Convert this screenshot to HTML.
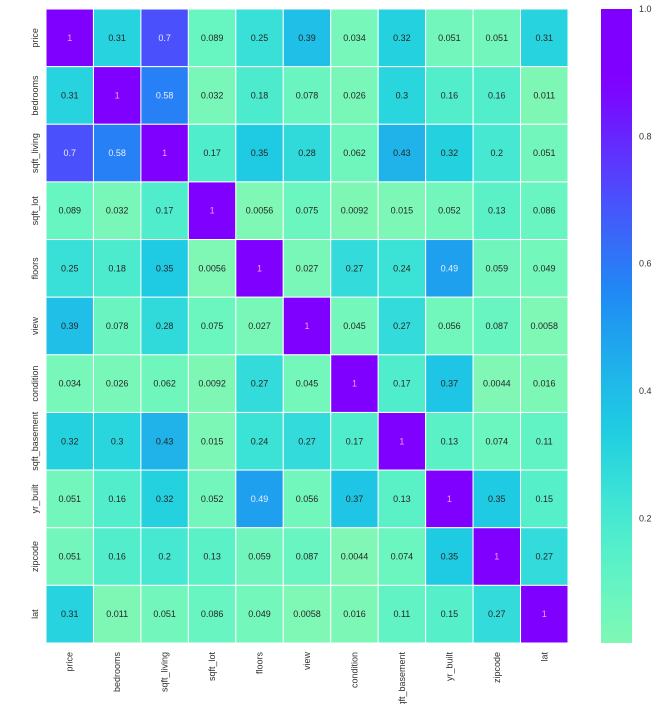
<!DOCTYPE html>
<html><head><meta charset="utf-8"><style>
html,body{margin:0;padding:0;background:#fff;width:653px;height:704px;overflow:hidden}
svg{display:block;font-family:"Liberation Sans",Arial,sans-serif}
</style></head><body>
<svg id="chart" width="653" height="704" viewBox="0 0 653 704">
<defs><linearGradient id="cbgrad" x1="0" y1="1" x2="0" y2="0"></linearGradient></defs>
<g id="cells"></g>
<g id="ylabels"></g>
<g id="xlabels"></g>
<g id="cbar"></g>
</svg>
<script>
const labels = ["price","bedrooms","sqft_living","sqft_lot","floors","view","condition","sqft_basement","yr_built","zipcode","lat"];
const values = [
 [1,0.31,0.7,0.089,0.25,0.39,0.034,0.32,0.051,0.051,0.31],
 [0.31,1,0.58,0.032,0.18,0.078,0.026,0.3,0.16,0.16,0.011],
 [0.7,0.58,1,0.17,0.35,0.28,0.062,0.43,0.32,0.2,0.051],
 [0.089,0.032,0.17,1,0.0056,0.075,0.0092,0.015,0.052,0.13,0.086],
 [0.25,0.18,0.35,0.0056,1,0.027,0.27,0.24,0.49,0.059,0.049],
 [0.39,0.078,0.28,0.075,0.027,1,0.045,0.27,0.056,0.087,0.0058],
 [0.034,0.026,0.062,0.0092,0.27,0.045,1,0.17,0.37,0.0044,0.016],
 [0.32,0.3,0.43,0.015,0.24,0.27,0.17,1,0.13,0.074,0.11],
 [0.051,0.16,0.32,0.052,0.49,0.056,0.37,0.13,1,0.35,0.15],
 [0.051,0.16,0.2,0.13,0.059,0.087,0.0044,0.074,0.35,1,0.27],
 [0.31,0.011,0.051,0.086,0.049,0.0058,0.016,0.11,0.15,0.27,1]
];
const cbTicks = [0.2,0.4,0.6,0.8,1.0];
const cbTickLabels = ["0.2","0.4","0.6","0.8","1.0"];
const vmin = 0.0044, vmax = 1, vsat = 0.885;

const NS="http://www.w3.org/2000/svg";
const X0=46, Y0=9, W=522, H=634, n=labels.length, cw=W/n, ch=H/n;
function colorOf(v){
  let t=(vsat-v)/(vsat-vmin); t=Math.max(0,Math.min(1,t));
  const x=0.5*t;
  const r=Math.max(0.12,Math.min(1,Math.abs(2*x-0.5))), g=Math.sin(Math.PI*x)*0.97, b=Math.cos(Math.PI*x/2);
  return `rgb(${Math.round(r*255)},${Math.round(g*255)},${Math.round(b*255)})`;
}
function mk(tag,attrs,parent){const e=document.createElementNS(NS,tag);for(const k in attrs)e.setAttribute(k,attrs[k]);parent.appendChild(e);return e;}
function fmt(v){return String(v);}
const cells=document.getElementById('cells');
values.forEach((row,i)=>row.forEach((v,j)=>{
  const r=mk('rect',{x:X0+j*cw,y:Y0+i*ch,width:cw,height:ch,fill:colorOf(v),stroke:'#fff','stroke-width':1},cells);
  
  
  const t=mk('text',{x:X0+(j+.5)*cw,y:Y0+(i+.5)*ch+3,'text-anchor':'middle','font-size':9,fill:v>=0.45?(v>=0.88?'#f0a0f0':'#e8eeff'):'#262626'},cells);
  t.textContent=fmt(v);
  
  
}));
const yl=document.getElementById('ylabels'), xl=document.getElementById('xlabels');
labels.forEach((l,i)=>{
  const cy=Y0+(i+.5)*ch;
  const t=mk('text',{x:0,y:0,transform:`translate(38,${cy}) rotate(-90)`,'text-anchor':'middle','font-size':9,fill:'#333'},yl);
  t.textContent=l;
  
  
  const cx=X0+(i+.5)*cw;
  const u=mk('text',{x:0,y:0,transform:`translate(${cx+3},652) rotate(-90)`,'text-anchor':'end','font-size':9,fill:'#333'},xl);
  u.textContent=l;
  
  
});
const grad=document.getElementById('cbgrad');
for(let k=0;k<=40;k++){const v=vmin+(vmax-vmin)*k/40;mk('stop',{offset:(k/40),'stop-color':colorOf(v)},grad);}
const cb=document.getElementById('cbar');
const CX=601,CW=31;
const cbr=mk('rect',{x:CX,y:Y0,width:CW,height:H,fill:'url(#cbgrad)'},cb);


const ys=v=>Y0+H-(v-vmin)/(vmax-vmin)*H;
cbTicks.forEach((v,k)=>{
  const t=mk('text',{x:639,y:ys(v)+3,'font-size':9,fill:'#333'},cb);
  t.textContent=cbTickLabels[k];
  
  
});
</script>
</body></html>
